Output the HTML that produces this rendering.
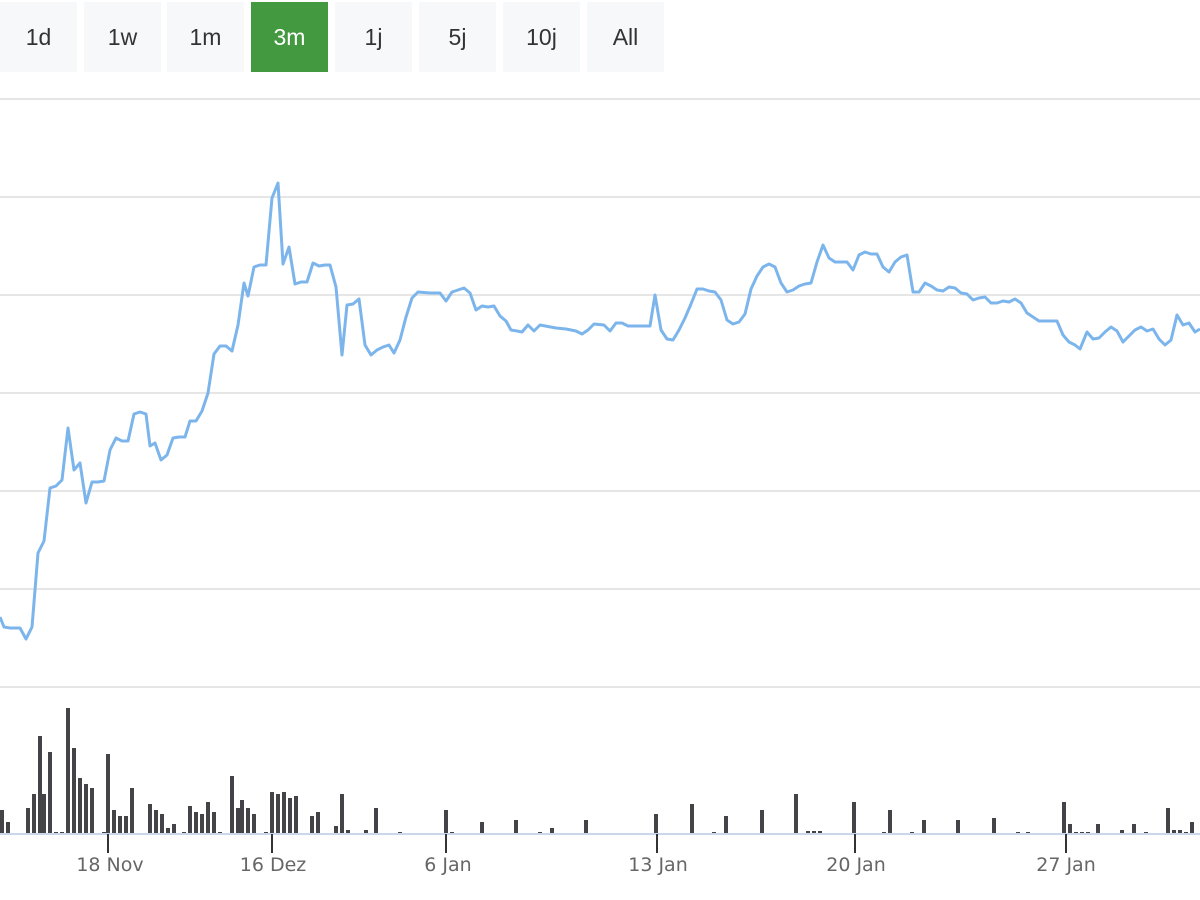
<!DOCTYPE html>
<html><head><meta charset="utf-8"><style>
body{margin:0;background:#fff;width:1200px;height:900px;overflow:hidden;font-family:"Liberation Sans","DejaVu Sans",sans-serif}
.b{position:absolute;top:2px;height:70px;width:77px;background:#f7f8fa;color:#333;font-size:23px;line-height:70px;text-align:center}
.a{background:#43993f;color:#fff}
</style></head><body>
<div class="b" style="left:0">1d</div>
<div class="b" style="left:84px">1w</div>
<div class="b" style="left:167px">1m</div>
<div class="b a" style="left:251px">3m</div>
<div class="b" style="left:335px">1j</div>
<div class="b" style="left:419px">5j</div>
<div class="b" style="left:503px">10j</div>
<div class="b" style="left:587px">All</div>
<svg width="1200" height="900" style="position:absolute;left:0;top:0" xmlns="http://www.w3.org/2000/svg">
<g stroke="#e6e6e6" stroke-width="2">
<line x1="0" x2="1200" y1="99" y2="99"/><line x1="0" x2="1200" y1="197" y2="197"/><line x1="0" x2="1200" y1="295" y2="295"/><line x1="0" x2="1200" y1="393" y2="393"/><line x1="0" x2="1200" y1="491" y2="491"/><line x1="0" x2="1200" y1="589" y2="589"/><line x1="0" x2="1200" y1="687" y2="687"/>
</g>
<polyline fill="none" stroke="#7cb5ec" stroke-width="3" stroke-linejoin="round" points="0,617 4,627 10,628 20,628 26,639 32,627 38,553 44,541 50,488 56,486 62,480 68,428 74,470 80,463 86,503 92,482 98,482 104,481 110,450 116,438 122,441 128,441 134,414 140,412 146,414 150,446 155,443 161,460 167,455 173,438 179,437 185,437 190,421 196,421 202,411 208,393 214,354 220,346 226,346 232,351 238,325 244,283 248,296 254,267 260,265 266,265 272,198 278,183 283,264 289,247 295,284 301,282 307,282 313,263 319,266 325,265 330,265 336,287 342,355 347,305 353,304 359,299 365,345 371,355 377,350 383,347 389,345 394,353 400,340 406,317 412,298 418,292 430,293 440,293 446,301 452,292 458,290 464,288 470,293 476,310 482,306 488,307 494,306 500,316 506,321 511,330 517,331 522,332 528,325 534,331 540,325 556,328 566,329 576,331 582,334 588,330 594,324 604,325 610,331 616,323 622,323 628,326 650,326 655,295 661,330 667,339 673,340 679,330 685,318 691,304 697,289 703,289 709,291 715,292 721,300 727,320 733,324 739,322 745,314 751,289 757,276 763,267 769,264 775,267 781,283 787,292 793,290 799,286 805,284 811,283 817,262 823,245 829,258 835,262 847,262 853,270 859,255 865,252 871,254 877,254 883,267 889,272 895,262 901,257 907,255 913,292 919,292 925,283 931,286 937,290 943,291 949,287 955,288 961,293 967,294 973,300 979,298 985,297 991,303 997,303 1003,301 1009,302 1015,299 1021,303 1027,313 1033,317 1039,321 1057,321 1063,335 1069,342 1075,345 1080,349 1087,332 1093,339 1099,338 1105,332 1111,327 1117,331 1123,342 1129,336 1135,330 1141,327 1147,331 1153,329 1159,339 1165,345 1171,340 1177,315 1183,325 1189,323 1195,332 1200,329"/>
<g fill="#434348" id="v"></g>
<line x1="0" x2="1200" y1="834" y2="834" stroke="#ccd6eb" stroke-width="2"/>
<g stroke="#333" stroke-width="2">
<line x1="108" x2="108" y1="834" y2="853"/><line x1="272" x2="272" y1="834" y2="853"/><line x1="446" x2="446" y1="834" y2="853"/><line x1="657" x2="657" y1="834" y2="853"/><line x1="855" x2="855" y1="834" y2="853"/><line x1="1066" x2="1066" y1="834" y2="853"/>
</g>
<g fill="#666" font-size="19" text-anchor="middle" font-family="DejaVu Sans, sans-serif">
<text x="110" y="871">18 Nov</text><text x="273" y="871">16 Dez</text><text x="448" y="871">6 Jan</text><text x="658" y="871">13 Jan</text><text x="856" y="871">20 Jan</text><text x="1066" y="871">27 Jan</text>
</g>
</svg>
<script>
var d=[[2,810],[8,822],[28,808],[34,794],[40,736],[44,794],[50,752],[56,832],[62,832],[68,708],[74,748],[80,778],[86,784],[92,788],[104,832],[108,754],[114,810],[120,816],[126,816],[132,788],[150,804],[156,810],[162,814],[168,828],[174,824],[184,832],[190,806],[196,812],[202,814],[208,802],[214,812],[220,832],[232,776],[238,808],[242,800],[248,808],[254,814],[266,832],[272,792],[278,794],[284,792],[290,798],[296,796],[312,816],[318,812],[336,826],[342,794],[348,830],[366,830],[376,808],[400,832],[446,810],[452,832],[482,822],[516,820],[540,832],[552,828],[586,820],[656,814],[692,804],[714,832],[726,816],[762,810],[796,794],[808,831],[814,831],[820,831],[854,802],[884,832],[890,810],[912,832],[924,820],[958,820],[994,818],[1018,832],[1028,832],[1064,802],[1070,824],[1076,832],[1082,832],[1088,832],[1098,824],[1122,830],[1134,824],[1146,832],[1168,808],[1174,830],[1180,830],[1186,832],[1192,822]];
var g=document.getElementById('v'),s='';
d.forEach(function(p){s+='<rect x="'+(p[0]-2)+'" y="'+p[1]+'" width="4" height="'+(834-p[1])+'"/>';});
g.innerHTML=s;
</script>
</body></html>
